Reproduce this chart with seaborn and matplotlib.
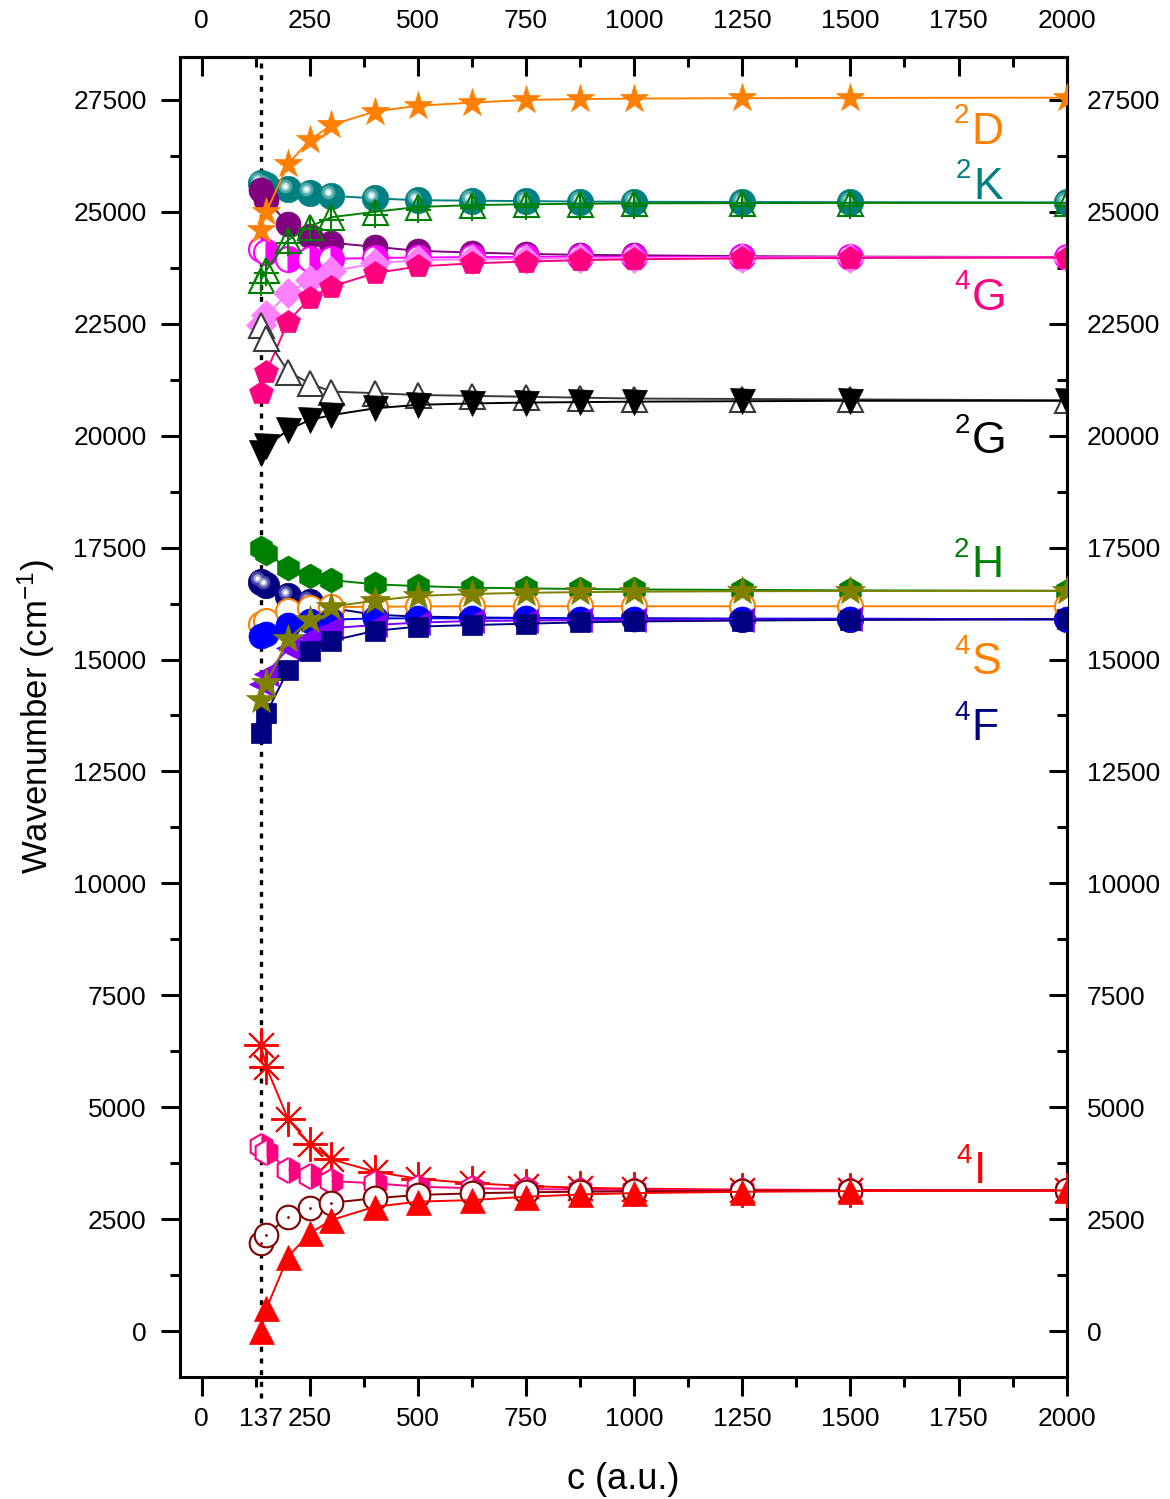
import numpy as np
import pandas as pd
import matplotlib
matplotlib.use("Agg")
import matplotlib.pyplot as plt
import seaborn as sns
from matplotlib.transforms import offset_copy
from matplotlib.ticker import FixedLocator, MultipleLocator

# ---------------- data ----------------
c_values = [137, 150, 200, 250, 300, 400, 500, 625, 750, 875, 1000, 1250, 1500, 2000]

D2_star = [24600, 25000, 26070, 26600, 26940, 27240, 27370, 27440, 27500, 27520, 27530, 27540, 27545, 27550]
K2_sphere = [25650, 25600, 25500, 25430, 25360, 25300, 25260, 25250, 25240, 25230, 25225, 25220, 25215, 25210]
K2_tricross = [23480, 23700, 24370, 24670, 24880, 25000, 25110, 25150, 25170, 25180, 25190, 25195, 25200, 25200]
G4_circle = [25490, 25270, 24730, 24460, 24310, 24220, 24130, 24090, 24060, 24040, 24030, 24010, 24000, 23990]
G4_halfcircle = [24180, 24100, 23940, 23940, 23950, 23970, 23980, 23990, 23995, 23995, 23995, 23990, 23990, 23985]
G4_diamond = [22470, 22700, 23180, 23480, 23670, 23850, 23920, 23940, 23955, 23965, 23970, 23975, 23980, 23980]
G4_pentagon = [20950, 21430, 22550, 23070, 23330, 23630, 23780, 23850, 23890, 23920, 23940, 23960, 23970, 23980]
G2_opentri = [22470, 22180, 21430, 21170, 20985, 20950, 20910, 20890, 20870, 20850, 20830, 20820, 20810, 20790]
G2_downtri = [19610, 19760, 20130, 20350, 20460, 20610, 20690, 20720, 20740, 20750, 20760, 20770, 20780, 20780]

H2_hexagon = [17485, 17375, 17040, 16865, 16775, 16680, 16640, 16605, 16590, 16575, 16565, 16555, 16545, 16535]
F4_sphere = [16740, 16665, 16420, 16295, 16150, 16000, 15960, 15940, 15930, 15920, 15920, 15910, 15910, 15900]
S4_opencircle = [15800, 15850, 16090, 16150, 16170, 16180, 16185, 16190, 16190, 16190, 16190, 16190, 16190, 16190]
F4_circle = [15520, 15560, 15780, 15850, 15890, 15920, 15920, 15920, 15920, 15915, 15915, 15910, 15910, 15900]
F4_lefttri = [14455, 14680, 15250, 15510, 15700, 15770, 15825, 15860, 15870, 15880, 15885, 15890, 15895, 15900]
H2_star = [14100, 14470, 15450, 15885, 16180, 16315, 16420, 16465, 16490, 16505, 16515, 16525, 16530, 16535]
F4_square = [13355, 13800, 14765, 15200, 15420, 15640, 15735, 15770, 15800, 15830, 15850, 15870, 15885, 15900]

I4_asterisk = [6390, 5890, 4730, 4180, 3835, 3560, 3400, 3300, 3240, 3200, 3180, 3160, 3150, 3140]
I4_halfhex = [4130, 4005, 3600, 3460, 3350, 3300, 3225, 3190, 3170, 3160, 3150, 3145, 3140, 3140]
I4_dotcircle = [1975, 2145, 2555, 2755, 2865, 2965, 3040, 3075, 3100, 3110, 3120, 3130, 3135, 3140]
I4_triangle = [0, 505, 1660, 2180, 2480, 2775, 2890, 2925, 3000, 3050, 3080, 3110, 3125, 3140]

x_major_bottom = [0, 137, 250, 500, 750, 1000, 1250, 1500, 1750, 2000]
x_major_top = [0, 250, 500, 750, 1000, 1250, 1500, 1750, 2000]
x_minor = [125, 375, 625, 875, 1125, 1375, 1625, 1875]
y_major = list(range(0, 27501, 2500))

state_letters = ["D", "K", "G", "G", "H", "S", "F", "I"]
state_mult = ["2", "2", "4", "2", "2", "4", "4", "4"]
state_x = [1854, 1852, 1861, 1861, 1854, 1850, 1843, 1815]
state_y = [26525, 25297, 22812, 19603, 16835, 14669, 13196, 3304]
state_colors = ["#FF8000", "#008080", "#FF0080", "#000000", "#008000", "#FF8000", "#000080", "#FF0000"]

# ---------------- style ----------------
sns.set_theme(style="ticks")
plt.rcParams["font.family"] = ["Liberation Sans", "DejaVu Sans"]
plt.rcParams["mathtext.fontset"] = "custom"
plt.rcParams["mathtext.rm"] = "Liberation Sans"
plt.rcParams["mathtext.it"] = "Liberation Sans:italic"
plt.rcParams["mathtext.bf"] = "Liberation Sans:bold"
plt.rcParams["text.color"] = "black"
plt.rcParams["axes.labelcolor"] = "black"
plt.rcParams["xtick.color"] = "black"
plt.rcParams["ytick.color"] = "black"
plt.rcParams["xtick.labelcolor"] = "black"
plt.rcParams["ytick.labelcolor"] = "black"

fig = plt.figure(figsize=(11.7, 14.99), dpi=100)
ax = fig.add_axes([0.1538, 0.0816, 0.9117 - 0.1538, 0.962 - 0.0816])
ax.set_facecolor("white")


def draw(y, color, marker, ms, mfc=None, mec=None, mew=1.5, lw=1.4,
         fillstyle="full", mfcalt="none", z=2):
    sns.lineplot(x=c_values, y=y, ax=ax, color=color, marker=marker,
                 markersize=ms, markerfacecolor=(color if mfc is None else mfc),
                 markeredgecolor=(color if mec is None else mec),
                 markeredgewidth=mew, fillstyle=fillstyle,
                 markerfacecoloralt=mfcalt, linewidth=lw, zorder=z,
                 legend=False, errorbar=None)


def overlay(y, marker, ms, color, dx=0.0, dy=0.0, mew=1.0, z=2, mec="none"):
    tr = offset_copy(ax.transData, fig=fig, x=dx, y=dy, units="points")
    ax.plot(c_values, y, ls="none", marker=marker, ms=ms, mfc=color,
            mec=mec, mew=mew, transform=tr, zorder=z)


# group 2D / 2K / 4G / 2G
draw(K2_sphere, "#008080", "o", 19, mew=0.5, z=2.0)
overlay(K2_sphere, "o", 10, "#4fa8a8", dx=-2.5, dy=2.5, z=2.01)
overlay(K2_sphere, "o", 6, "#a8d8d8", dx=-2.5, dy=2.5, z=2.015)
overlay(K2_sphere, "o", 3, "#ffffff", dx=-2.5, dy=2.5, z=2.02)
draw(G4_circle, "#800080", "o", 18, mew=0.5, z=2.1)
draw(G4_halfcircle, "#FF00FF", "o", 18, fillstyle="right", mfcalt="white", z=2.2)
draw(K2_tricross, "#008000", "^", 18, mfc="none", z=2.3)
overlay(K2_tricross, "+", 18, "#008000", dy=-2.0, mew=1.5, z=2.31, mec="#008000")
draw(G4_diamond, "#FF80FF", "D", 15, mew=0.5, z=2.4)
draw(G4_pentagon, "#FF0080", "p", 18, mew=0.5, z=2.5)
draw(G2_opentri, "#3a3a3a", "^", 18, mfc="white", z=2.6)
draw(G2_downtri, "#000000", "v", 18, mew=0.5, z=2.7)
draw(D2_star, "#FF8000", "*", 21, mew=0.5, z=2.8)

# group 2H / 4S / 4F
draw(H2_hexagon, "#008000", "h", 18, mew=0.5, z=3.0)
draw(F4_sphere, "#000080", "o", 19, mew=0.5, z=3.1)
overlay(F4_sphere, "o", 10, "#4a4aa8", dx=-2.5, dy=2.5, z=3.11)
overlay(F4_sphere, "o", 6, "#a8a8d8", dx=-2.5, dy=2.5, z=3.115)
overlay(F4_sphere, "o", 3, "#ffffff", dx=-2.5, dy=2.5, z=3.12)
draw(S4_opencircle, "#FF8000", "o", 18, mfc="white", z=3.2)
draw(F4_circle, "#0000FF", "o", 18, mew=0.5, z=3.3)
draw(F4_lefttri, "#8000FF", "<", 17, mew=0.5, z=3.4)
draw(F4_square, "#000080", "s", 14, mew=0.5, z=3.5)
draw(H2_star, "#808000", "*", 22, mew=0.5, z=3.6)

# group 4I
draw(I4_asterisk, "#FF0000", (8, 2, 0), 25, mew=1.4, z=4.0)
draw(I4_halfhex, "#FF0080", "h", 18, fillstyle="right", mfcalt="white", z=4.1)
draw(I4_dotcircle, "#800000", "o", 17, mfc="white", z=4.2)
overlay(I4_dotcircle, "o", 2, "#800000", z=4.21)
draw(I4_triangle, "#FF0000", "^", 18, mew=0.5, z=4.3)

# reference line at c = 137
ax.axvline(137, color="black", ls=(0, (1.5, 2.0)), lw=2.4, ymin=-0.016,
           clip_on=False, zorder=1.5)

# ---------------- axes ----------------
ax.set_xlim(-50, 2000)
ax.set_ylim(-1020, 28460)

ax.set_xticks(x_major_bottom)
ax.set_xticklabels([str(v) for v in x_major_bottom])
ax.xaxis.set_minor_locator(FixedLocator(x_minor))
ax.set_yticks(y_major)
ax.set_yticklabels([str(v) for v in y_major])
ax.yaxis.set_minor_locator(MultipleLocator(1250))

ax.tick_params(axis="both", which="major", direction="out", length=14,
               width=2.2, labelsize=19, colors="black")
ax.tick_params(axis="both", which="minor", direction="out", length=7,
               width=2.2, colors="black")
ax.tick_params(axis="x", which="major", pad=8)
ax.tick_params(axis="y", which="major", pad=10)
ax.xaxis.get_major_ticks()[1].tick1line.set_visible(False)

for sp in ax.spines.values():
    sp.set_linewidth(2.2)
    sp.set_color("black")
    sp.set_visible(True)

secx = ax.secondary_xaxis("top")
secx.set_xticks(x_major_top)
secx.set_xticklabels([str(v) for v in x_major_top])
secx.xaxis.set_minor_locator(FixedLocator(x_minor))
secx.tick_params(which="major", direction="in", length=14, width=2.2,
                 pad=17, labelsize=19, colors="black")
secx.tick_params(which="minor", direction="in", length=7, width=2.2,
                 colors="black")
secx.spines["top"].set_linewidth(2.2)
secx.spines["top"].set_color("black")

secy = ax.secondary_yaxis("right")
secy.set_yticks(y_major)
secy.set_yticklabels([str(v) for v in y_major])
secy.yaxis.set_minor_locator(MultipleLocator(1250))
secy.tick_params(which="major", direction="in", length=13, width=2.2,
                 pad=14.5, labelsize=19, colors="black")
secy.tick_params(which="minor", direction="in", length=7, width=2.2,
                 colors="black")
secy.spines["right"].set_linewidth(2.2)
secy.spines["right"].set_color("black")

ax.set_xlabel("c (a.u.)", fontsize=26, labelpad=22, color="black")
ax.set_ylabel("Wavenumber (cm$^{-1}$)", fontsize=25, labelpad=12, color="black")

# state labels
for letter, mult, sx, sy, col in zip(state_letters, state_mult, state_x,
                                     state_y, state_colors):
    t = ax.text(sx, sy, letter, fontsize=32, color=col, ha="right",
                va="baseline", zorder=6)
    ax.annotate(mult, xy=(0, 1), xycoords=t, xytext=(-1.5, 6),
                textcoords="offset points", ha="right", va="top",
                fontsize=20, color=col, zorder=6)

fig.savefig("out.png", dpi=100)
